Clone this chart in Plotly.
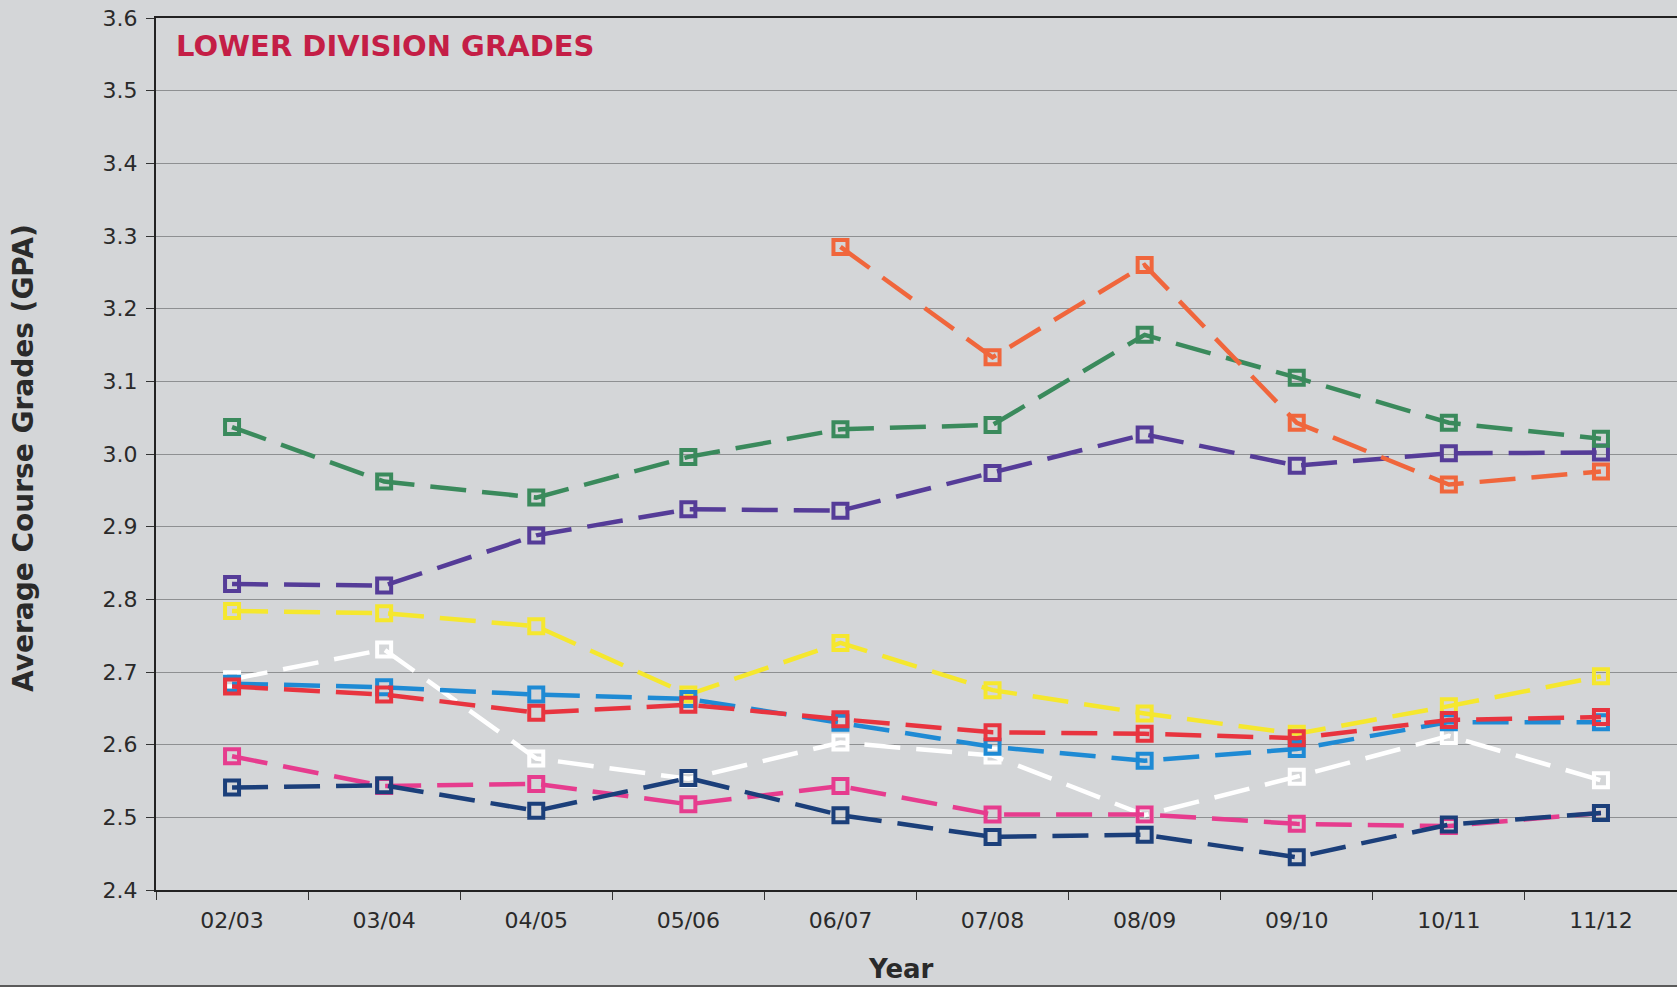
import plotly.graph_objects as go

years = ["02/03", "03/04", "04/05", "05/06", "06/07", "07/08", "08/09", "09/10", "10/11", "11/12"]

white_vals = [2.690, 2.731, 2.581, 2.553, 2.603, 2.585, 2.503, 2.556, 2.612, 2.551]
yellow_vals = [2.784, 2.781, 2.763, 2.669, 2.740, 2.675, 2.643, 2.615, 2.653, 2.694]
lightblue_vals = [2.684, 2.679, 2.669, 2.663, 2.630, 2.597, 2.578, 2.594, 2.631, 2.631]
red_vals = [2.680, 2.669, 2.644, 2.655, 2.635, 2.617, 2.615, 2.609, 2.634, 2.638]
pink_vals = [2.584, 2.543, 2.546, 2.518, 2.543, 2.504, 2.504, 2.491, 2.488, 2.506]
navy_vals = [2.541, 2.544, 2.509, 2.554, 2.503, 2.473, 2.476, 2.445, 2.490, 2.506]
purple_vals = [2.821, 2.819, 2.888, 2.924, 2.922, 2.974, 3.027, 2.984, 3.001, 3.002]
green_vals = [3.037, 2.962, 2.940, 2.996, 3.034, 3.040, 3.164, 3.105, 3.043, 3.021]
orange_vals = [None, None, None, None, 3.285, 3.133, 3.260, 3.043, 2.958, 2.976]

series = [
    ("White", white_vals, "#FFFFFF"),
    ("Yellow", yellow_vals, "#F5E72E"),
    ("Light blue", lightblue_vals, "#1E8AD4"),
    ("Red", red_vals, "#E8343F"),
    ("Pink", pink_vals, "#E63C8E"),
    ("Navy", navy_vals, "#1B3F7A"),
    ("Purple", purple_vals, "#553C98"),
    ("Green", green_vals, "#3A8A5C"),
    ("Orange", orange_vals, "#F0663C"),
]

title_text = "LOWER DIVISION GRADES"
x_title = "Year"
y_title = "Average Course Grades (GPA)"

bg = "#D4D6D8"
font_family = "DejaVu Sans, Verdana, sans-serif"

fig = go.Figure()
for name, vals, color in series:
    fig.add_trace(go.Scatter(
        x=years, y=vals, name=name, mode="lines+markers",
        line=dict(color=color, width=4.5, dash="36px,16px"),
        marker=dict(symbol="square-open", size=14, color=color,
                    line=dict(width=4, color=color)),
        connectgaps=False,
    ))

fig.update_layout(
    width=1677, height=987,
    margin=dict(l=156, r=0, t=18, b=97),
    paper_bgcolor=bg, plot_bgcolor=bg,
    showlegend=False,
    font=dict(family=font_family, color="#2A2A2A"),
    annotations=[
        dict(text="<b>" + title_text + "</b>", x=0.012, y=0.968,
             xref="paper", yref="paper", xanchor="left", yanchor="middle",
             showarrow=False, font=dict(size=29, color="#C41E46", family=font_family)),
        dict(text="<b>" + x_title + "</b>", x=0.49, y=-0.0906,
             xref="paper", yref="paper", xanchor="center", yanchor="middle",
             showarrow=False, font=dict(size=26, color="#2A2A2A", family=font_family)),
        dict(text="<b>" + y_title + "</b>", x=-0.0871, y=0.495, textangle=-90,
             xref="paper", yref="paper", xanchor="center", yanchor="middle",
             showarrow=False, font=dict(size=28, color="#2A2A2A", family=font_family)),
    ],
    shapes=[dict(type="rect", xref="paper", yref="paper",
                 x0=-0.2, x1=1.0, y0=-0.13, y1=-0.109,
                 fillcolor="#5A5A5A", line=dict(width=0))],
)

fig.update_xaxes(
    type="category", range=[-0.5, 9.5],
    showline=True, linecolor="#222222", linewidth=2, mirror=True,
    ticks="outside", tickson="boundaries", ticklen=8, tickcolor="#333333",
    tickfont=dict(size=22, color="#2A2A2A"), ticklabelstandoff=10,
    showgrid=False,
)
fig.update_yaxes(
    range=[2.4, 3.6], dtick=0.1, tickformat=".1f",
    showline=True, linecolor="#222222", linewidth=2,
    ticks="outside", ticklen=8, tickcolor="#333333",
    tickfont=dict(size=22, color="#2A2A2A"), ticklabelstandoff=4,
    showgrid=True, gridcolor="#8E9092", gridwidth=1,
    zeroline=False,
)

fig.write_html(
    "out.html",
    config={"displayModeBar": False},
    post_script="document.body.style.margin='0';document.body.style.background='%s';" % bg,
)
